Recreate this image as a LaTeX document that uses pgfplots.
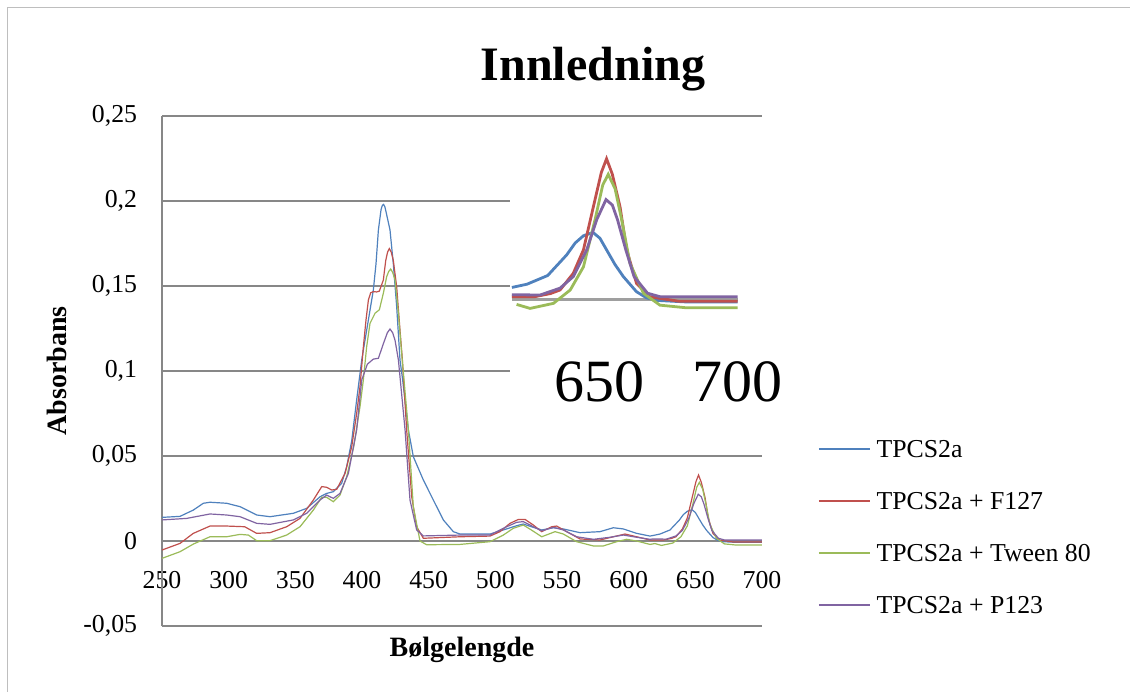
\documentclass[border=0pt]{standalone}
\usepackage{fontspec}
\setmainfont{Liberation Serif}
\usepackage{pgfplots}
\pgfplotsset{compat=1.18}
\usepackage{pgfplotstable}
\definecolor{sblue}{HTML}{4F81BD}
\definecolor{sred}{HTML}{C0504D}
\definecolor{sgreen}{HTML}{9BBB59}
\definecolor{spurple}{HTML}{8064A2}
\definecolor{gridgray}{HTML}{878787}
\definecolor{framegray}{HTML}{BEBEBE}

\pgfplotstableread{
x y
250 0.0139
263.5 0.0145
273.5 0.0182
281 0.0222
286 0.0228
298.5 0.0222
308.5 0.0202
321 0.0153
331 0.0143
348.5 0.0163
358.5 0.0192
368.5 0.0260
373.5 0.0280
378.5 0.0290
384.8 0.0340
388.5 0.0437
392.3 0.0590
396 0.0830
399.8 0.1065
403.5 0.1240
408.5 0.1476
410.5 0.1630
412.3 0.1830
414.3 0.1950
415.3 0.1975
416.2 0.1980
417.2 0.1965
418.2 0.1930
421 0.1830
423.5 0.1630
426 0.1380
428.5 0.1065
430.5 0.0947
434.8 0.0653
438.5 0.0496
446 0.0359
453.5 0.0241
461 0.0124
468.5 0.0055
473.5 0.0041
496 0.0041
506 0.0065
516 0.0090
521 0.0100
527 0.0084
534.8 0.0065
543.5 0.0078
551 0.0071
563.5 0.0049
578.5 0.0055
588.5 0.0078
596 0.0071
606 0.0045
616 0.0029
618 0.0032
623.5 0.0041
631 0.0065
637.9 0.0122
641 0.0155
644 0.0175
647.5 0.0184
650 0.0168
652.4 0.0136
655.5 0.0095
658.5 0.0062
663.3 0.0020
667 0.0003
671 -0.0004
681 -0.0008
700 -0.0008
}\tblblue

\pgfplotstableread{
x y
250 -0.0053
263.5 -0.0014
273.5 0.0045
286 0.0088
298.5 0.0088
312 0.0084
321 0.0045
331 0.0049
343.5 0.0084
353.5 0.0133
363.5 0.0241
369.8 0.0320
373.5 0.0316
377.3 0.0300
381 0.0304
387.3 0.0398
392.3 0.0555
396 0.0751
398.5 0.0908
401 0.1140
403 0.1300
404.8 0.1418
406.5 0.1460
408.5 0.1467
411 0.1465
413 0.1470
416 0.1535
417.8 0.1650
419.2 0.1700
420.5 0.1720
421.9 0.1700
423.5 0.1650
426 0.1496
428.5 0.1240
430.3 0.1065
433.5 0.0653
437.3 0.0260
441 0.0084
446 0.0016
473.5 0.0025
496 0.0029
503.5 0.0055
511 0.0104
517.3 0.0127
522.3 0.0127
528.5 0.0094
534.8 0.0055
542.3 0.0084
546 0.0088
553.5 0.0055
563.5 0.0012
578.5 0.0006
588.5 0.0025
597.3 0.0041
606 0.0025
616 0.0006
618 0.0006
626 0.0006
632 0.0015
635.5 0.0025
640.3 0.0071
644 0.0136
647.6 0.0255
650.5 0.0350
652.4 0.0388
654.5 0.0345
657.3 0.0255
659.7 0.0136
663.3 0.0043
668.2 0.0006
678.5 -0.0006
700 -0.0006
}\tblred

\pgfplotstableread{
x y
250 -0.0102
263.5 -0.0063
273.5 -0.0018
286 0.0025
298.5 0.0025
308.5 0.0039
314.8 0.0035
321 0.0002
331 0.0002
343.5 0.0035
353.5 0.0084
363.5 0.0182
369.8 0.0257
373.5 0.0257
378.5 0.0231
383.5 0.0270
388.5 0.0378
393.8 0.0555
398.5 0.0790
401 0.0947
403.5 0.1143
406 0.1280
409.8 0.1340
413 0.1360
416 0.1457
418.5 0.1555
420 0.1585
421.5 0.1600
423 0.1580
424.8 0.1535
427.3 0.1340
429.8 0.1100
434.8 0.0653
438.5 0.0200
443.5 0.0000
448.5 -0.0022
473.5 -0.0020
496 -0.0004
506 0.0035
513.5 0.0075
521 0.0094
527 0.0065
534.8 0.0025
544.8 0.0055
551 0.0041
561 -0.0004
573.5 -0.0029
581 -0.0029
591 -0.0004
598.5 0.0010
606 0.0000
616 -0.0020
619.7 -0.0015
624.6 -0.0026
633.1 -0.0012
639.2 0.0025
644 0.0089
648.2 0.0219
651 0.0315
653 0.0345
655.5 0.0305
657.9 0.0219
660.9 0.0099
665.8 0.0016
671.8 -0.0017
681 -0.0024
700 -0.0024
}\tblgreen

\pgfplotstableread{
x y
250 0.0124
268.5 0.0133
286 0.0159
298.5 0.0153
308.5 0.0143
321 0.0104
331 0.0098
348.5 0.0124
358.5 0.0163
368.5 0.0241
373.5 0.0270
378.5 0.0251
383.5 0.0280
389.8 0.0398
396 0.0653
399.8 0.0947
404 0.1040
408.5 0.1070
412.3 0.1075
416 0.1160
419 0.1225
421 0.1247
423 0.1225
424.8 0.1180
427.3 0.1065
432.3 0.0653
436 0.0241
441 0.0065
446 0.0030
473.5 0.0035
496 0.0035
506 0.0075
516 0.0110
521 0.0114
528.5 0.0084
534.8 0.0060
543.5 0.0080
551 0.0065
561 0.0025
573.5 0.0010
586 0.0022
596 0.0035
606 0.0022
616 0.0010
618 0.0012
628.2 0.0011
635.5 0.0030
640.3 0.0062
645.2 0.0136
648.8 0.0219
652.2 0.0275
654.5 0.0260
656.4 0.0219
659.4 0.0136
662.4 0.0062
667.3 0.0016
672 0.0006
700 0.0006
}\tblpurple

\begin{document}
\begin{tikzpicture}
\path[use as bounding box] (0,0) rectangle (565pt,-345.5pt);
\fill[white] (0,0) rectangle (565pt,-345.5pt);
\draw[framegray, line width=0.6pt] (3.6pt,-360pt) -- (3.6pt,-3.6pt) -- (580pt,-3.6pt);

\begin{axis}[
  at={(81pt,-313pt)}, anchor=south west,
  scale only axis, width=300pt, height=255pt,
  xmin=250, xmax=700, ymin=-0.05, ymax=0.25,
  xtick={250,300,350,400,450,500,550,600,650,700},
  xticklabels={250,300,350,400,450,500,550,600,650,700},
  ytick={-0.05,0,0.05,0.1,0.15,0.2,0.25},
  yticklabels={-0{,}05,0,0{,}05,0{,}1,0{,}15,0{,}2,0{,}25},
  scaled y ticks=false, scaled x ticks=false,
  axis line style={draw=none}, tick style={draw=none},
  ymajorgrids, major grid style={gridgray, line width=0.8pt},
  extra x ticks={250}, extra x tick labels={},
  extra x tick style={xmajorgrids=true, ymajorgrids=false},
  tick label style={font=\fontsize{12.9}{15}\selectfont},
  yticklabel style={anchor=east, inner sep=0pt, xshift=-12.25pt},
  xticklabel style={anchor=center, inner sep=0pt, yshift=23pt},
  legend style={at={(rel axis cs:1.0933,0.3647)}, anchor=north west,
    draw=none, fill=none, inner sep=0pt, row sep=17.5pt, column sep=3pt,
    nodes={inner sep=0pt, text height=8.5pt, text depth=0pt},
    font=\fontsize{12.9}{15}\selectfont},
  legend cell align=left,
  legend image code/.code={\draw[#1] (0pt,0pt) -- (25.5pt,0pt);},
]
\addplot[sblue, line width=0.6pt] table {\tblblue};
\addplot[sred, line width=0.6pt] table {\tblred};
\addplot[sgreen, line width=0.6pt] table {\tblgreen};
\addplot[spurple, line width=0.6pt] table {\tblpurple};
\legend{TPCS2a, TPCS2a + F127, TPCS2a + Tween 80, TPCS2a + P123}
\end{axis}

\begin{axis}[
  at={(255pt,-215pt)}, anchor=south west,
  scale only axis, width=127.5pt, height=150pt,
  xmin=617.3, xmax=710, ymin=-0.03624, ymax=0.04675,
  axis line style={draw=none}, xtick=\empty, ytick=\empty,
  axis background/.style={fill=white},
  clip=false,
]
\addplot[gray!75, line width=1.5pt] coordinates {(618,0) (700,0)};
\addplot[sblue, line width=1.4pt, restrict x to domain=618:700] table {\tblblue};
\addplot[sred, line width=1.4pt, restrict x to domain=618:700] table {\tblred};
\addplot[sgreen, line width=1.4pt, restrict x to domain=618:700] table {\tblgreen};
\addplot[spurple, line width=1.4pt, restrict x to domain=618:700] table {\tblpurple};
\node[font=\fontsize{30}{34}\selectfont] at (axis cs:650,-0.02296) {650};
\node[font=\fontsize{30}{34}\selectfont] at (axis cs:700,-0.02296) {700};
\end{axis}

\node[font=\bfseries\fontsize{24}{27}\selectfont, anchor=base] at (296.5pt,-40pt) {Innledning};
\node[font=\bfseries\fontsize{14}{16}\selectfont, anchor=base, rotate=90] at (33pt,-185.5pt) {Absorbans};
\node[font=\bfseries\fontsize{14}{16}\selectfont, anchor=base] at (231pt,-328pt) {Bølgelengde};
\end{tikzpicture}
\end{document}
